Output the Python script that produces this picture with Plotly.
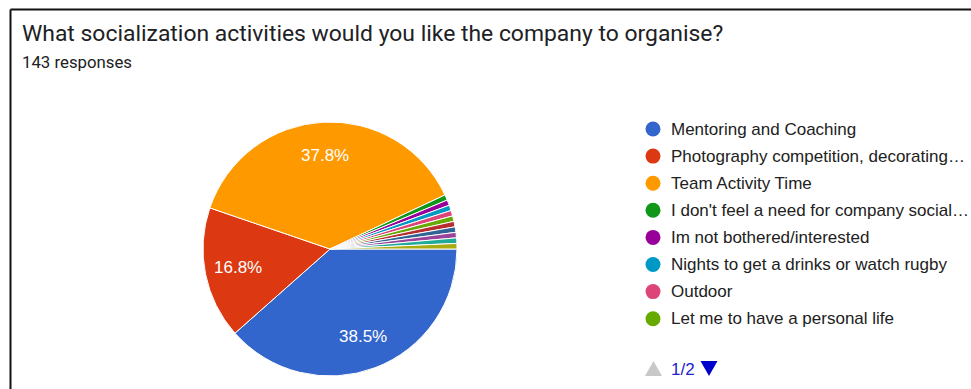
import math
import plotly.graph_objects as go

W, H = 971, 389

# Survey answers (143 responses)
labels = [
    "Mentoring and Coaching",
    "Photography competition, decorating competition",
    "Team Activity Time",
    "I don't feel a need for company socialization",
    "Im not bothered/interested",
    "Nights to get a drinks or watch rugby",
    "Outdoor",
    "Let me to have a personal life",
    "Quiz nights",
    "Volunteering days",
    "Sports tournaments",
    "Family day",
    "Lunch and learn",
]
counts = [55, 24, 54, 1, 1, 1, 1, 1, 1, 1, 1, 1, 1]
colors = [
    "#3366cc", "#dc3912", "#ff9900", "#109618", "#990099", "#0099c6",
    "#dd4477", "#66aa00", "#b82e2e", "#316395", "#994499", "#22aa99",
    "#aaaa11",
]
# Legend page 1: the first eight answers, truncated like the form does
legend_names = [
    "Mentoring and Coaching",
    "Photography competition, decorating…",
    "Team Activity Time",
    "I don't feel a need for company social…",
    "Im not bothered/interested",
    "Nights to get a drinks or watch rugby",
    "Outdoor",
    "Let me to have a personal life",
]

title_text = "What socialization activities would you like the company to organise?"
subtitle_text = "143 responses"
pager_text = "1/2"

FONT = "Arial, Liberation Sans, sans-serif"
TEXT_COLOR = "#212121"

# pie placement, in pixels
cx, cy, r = 330, 249, 127
start_deg = 90          # first slice starts at 3 o'clock, going clockwise
label_frac = 0.74       # radius fraction for the percentage labels
min_label_pct = 5.0     # slices smaller than this carry no label

# legend placement, in pixels
leg_x_dot, leg_x_text, leg_y0, leg_dy = 653, 669, 129, 27.1


def px_x(x):
    return x / W


def px_y(y):
    return 1 - y / H


total = sum(counts)

fig = go.Figure()
fig.add_trace(go.Pie(
    labels=labels,
    values=counts,
    sort=False,
    direction="clockwise",
    rotation=start_deg,
    marker=dict(colors=colors, line=dict(color="white", width=1)),
    textinfo="none",
    showlegend=False,
    hoverinfo="label+value+percent",
    domain=dict(x=[px_x(cx - r), px_x(cx + r)], y=[px_y(cy + r), px_y(cy - r)]),
))

# legend dots on a pixel-unit overlay axis
n_leg = len(legend_names)
leg_y = [leg_y0 + i * leg_dy for i in range(n_leg)]
fig.add_trace(go.Scatter(
    x=[leg_x_dot] * n_leg, y=leg_y, mode="markers",
    marker=dict(color=colors[:n_leg], size=15, symbol="circle", line=dict(width=0)),
    hoverinfo="skip", showlegend=False,
))

annotations = []

# percentage labels at the middle angle of each large slice
cum = 0
for c in counts:
    pct = c / total * 100
    mid = math.radians(start_deg + 360 * (cum + c / 2) / total)
    cum += c
    if pct < min_label_pct:
        continue
    annotations.append(dict(
        text=f"{pct:.1f}%", x=cx + label_frac * r * math.sin(mid),
        y=cy - label_frac * r * math.cos(mid), xref="x", yref="y",
        xanchor="center", yanchor="middle", showarrow=False,
        font=dict(family=FONT, size=17, color="white"),
    ))

for name, yy in zip(legend_names, leg_y):
    annotations.append(dict(
        text=name, x=leg_x_text, y=yy, xref="x", yref="y",
        xanchor="left", yanchor="middle", showarrow=False,
        font=dict(family=FONT, size=17, color=TEXT_COLOR),
    ))

annotations += [
    dict(text=title_text, x=px_x(20), y=px_y(34), xref="paper", yref="paper",
         xanchor="left", yanchor="middle", showarrow=False,
         font=dict(family="Roboto, sans-serif", size=22.9, color="#202124")),
    dict(text=subtitle_text, x=px_x(20), y=px_y(61.5), xref="paper", yref="paper",
         xanchor="left", yanchor="middle", showarrow=False,
         font=dict(family="Roboto, sans-serif", size=16.8, color="#202124")),
    dict(text=pager_text, x=px_x(669), y=px_y(369), xref="paper", yref="paper",
         xanchor="left", yanchor="middle", showarrow=False,
         font=dict(family=FONT, size=17, color="#2222cc")),
]

shapes = [
    # card border (top and left edges)
    dict(type="line", xref="paper", yref="paper", x0=px_x(10.5), x1=1.01,
         y0=px_y(9.5), y1=px_y(9.5), line=dict(color="#111", width=2)),
    dict(type="line", xref="paper", yref="paper", x0=px_x(10.5), x1=px_x(10.5),
         y0=px_y(9.5), y1=-0.01, line=dict(color="#111", width=2)),
    # pager arrows
    dict(type="path", xref="paper", yref="paper",
         path=f"M {px_x(645)} {px_y(376)} L {px_x(662)} {px_y(376)} L {px_x(653.5)} {px_y(361)} Z",
         fillcolor="#c8c8c8", line=dict(width=0)),
    dict(type="path", xref="paper", yref="paper",
         path=f"M {px_x(700.5)} {px_y(361)} L {px_x(717.5)} {px_y(361)} L {px_x(709)} {px_y(376)} Z",
         fillcolor="#0000cc", line=dict(width=0)),
]

fig.update_layout(
    width=W, height=H,
    margin=dict(l=0, r=0, t=0, b=0),
    paper_bgcolor="white", plot_bgcolor="rgba(0,0,0,0)",
    xaxis=dict(visible=False, range=[0, W], domain=[0, 1], fixedrange=True),
    yaxis=dict(visible=False, range=[H, 0], domain=[0, 1], fixedrange=True),
    showlegend=False,
    annotations=annotations,
    shapes=shapes,
)

fig.write_html("out.html")
